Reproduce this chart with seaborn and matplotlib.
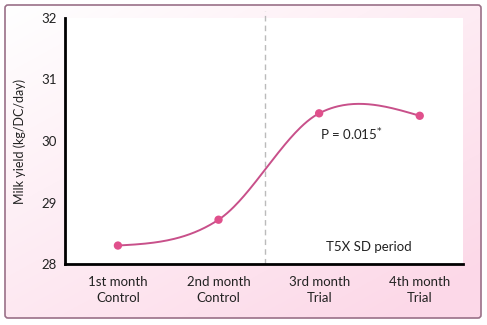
import numpy as np
import pandas as pd
import matplotlib
matplotlib.use("Agg")
import matplotlib.pyplot as plt
import seaborn as sns
from matplotlib.patches import FancyBboxPatch

categories = ["1st month\nControl", "2nd month\nControl", "3rd month\nTrial", "4th month\nTrial"]
milk_yield = [28.30, 28.72, 30.45, 30.41]
y_ticks = [28, 29, 30, 31, 32]

sns.set_style("white")
plt.rcParams["font.family"] = ["Lato", "DejaVu Sans"]

fig = plt.figure(figsize=(4.87, 3.25), dpi=100)
fig.patch.set_facecolor("white")

# gradient background panel
bg = fig.add_axes([0, 0, 1, 1], zorder=-10)
bg.set_xlim(0, 487); bg.set_ylim(325, 0); bg.axis("off")
gx, gy = np.meshgrid(np.linspace(0, 1, 200), np.linspace(0, 1, 200))
g = np.clip(0.6 * gy + 0.5 * gx, 0, 1)
white = np.array([1.0, 1.0, 1.0]); pink = np.array([0.99, 0.85, 0.91])
img = white * (1 - g[..., None]) + pink * g[..., None]
im = bg.imshow(img, extent=[5, 481, 318, 5], aspect="auto", zorder=0)
box = FancyBboxPatch((5, 5), 476, 313, boxstyle="round,pad=0,rounding_size=3",
                     fill=False, edgecolor="#9a7088", linewidth=1.2, zorder=2)
bg.add_patch(box)
im.set_clip_path(box)

ax = fig.add_axes([65 / 487, 1 - 264 / 325, (463 - 65) / 487, (264 - 18) / 325])
ax.set_facecolor("white")

x = np.arange(len(categories))
df = pd.DataFrame({"x": x, "y": milk_yield})

# smooth (Catmull-Rom style Hermite) line through the data points
def smooth_curve(xs, ys, n=60):
    xs = np.asarray(xs, float); ys = np.asarray(ys, float)
    k = len(xs)
    m = np.zeros(k)
    for i in range(1, k - 1):
        m[i] = (ys[i + 1] - ys[i - 1]) / (xs[i + 1] - xs[i - 1])
    m[0] = (3 * (ys[1] - ys[0]) / (xs[1] - xs[0]) - m[1]) / 2
    m[-1] = (3 * (ys[-1] - ys[-2]) / (xs[-1] - xs[-2]) - m[-2]) / 2
    px, py = [], []
    for i in range(k - 1):
        h = xs[i + 1] - xs[i]
        t = np.linspace(0, 1, n)
        h00 = 2 * t**3 - 3 * t**2 + 1; h10 = t**3 - 2 * t**2 + t
        h01 = -2 * t**3 + 3 * t**2; h11 = t**3 - t**2
        px.append(xs[i] + t * h)
        py.append(h00 * ys[i] + h10 * h * m[i] + h01 * ys[i + 1] + h11 * h * m[i + 1])
    return np.concatenate(px), np.concatenate(py)

sx, sy = smooth_curve(x, milk_yield)
sns.lineplot(x=sx, y=sy, ax=ax, color="#c8508a", linewidth=1.4, zorder=3, sort=False)
sns.scatterplot(data=df, x="x", y="y", ax=ax, color="#e0508c", s=36,
                edgecolor="none", zorder=4)

ax.axvline(1.46, ymin=0, ymax=1.03, color="#bbbbbb", linestyle=(0, (4, 3)),
           linewidth=1.0, clip_on=False, zorder=1)

ax.set_xlim(-0.526, 3.43)
ax.set_ylim(28, 32)
ax.set_yticks(y_ticks)
ax.set_yticklabels([str(t) for t in y_ticks])
ax.set_xticks(x)
ax.set_xticklabels(categories, linespacing=1.3)
ax.tick_params(axis="both", length=0, labelsize=9.5, colors="#222222")
ax.tick_params(axis="y", pad=6)
ax.tick_params(axis="x", pad=9)
ax.set_xlabel("")
ax.set_ylabel("Milk yield (kg/DC/day)", fontsize=9, color="#222222", labelpad=11)

for s in ["top", "right"]:
    ax.spines[s].set_visible(False)
for s in ["left", "bottom"]:
    ax.spines[s].set_visible(True)
    ax.spines[s].set_color("black")
    ax.spines[s].set_linewidth(2.0)

ax.text(2.01, 30.11, "P = 0.015$^{*}$", fontsize=9.5, color="#222222",
        ha="left", va="center")
ax.text(2.49, 28.27, "T5X SD period", fontsize=9.5, color="#222222",
        ha="center", va="center")

fig.savefig("out.png", dpi=100)
